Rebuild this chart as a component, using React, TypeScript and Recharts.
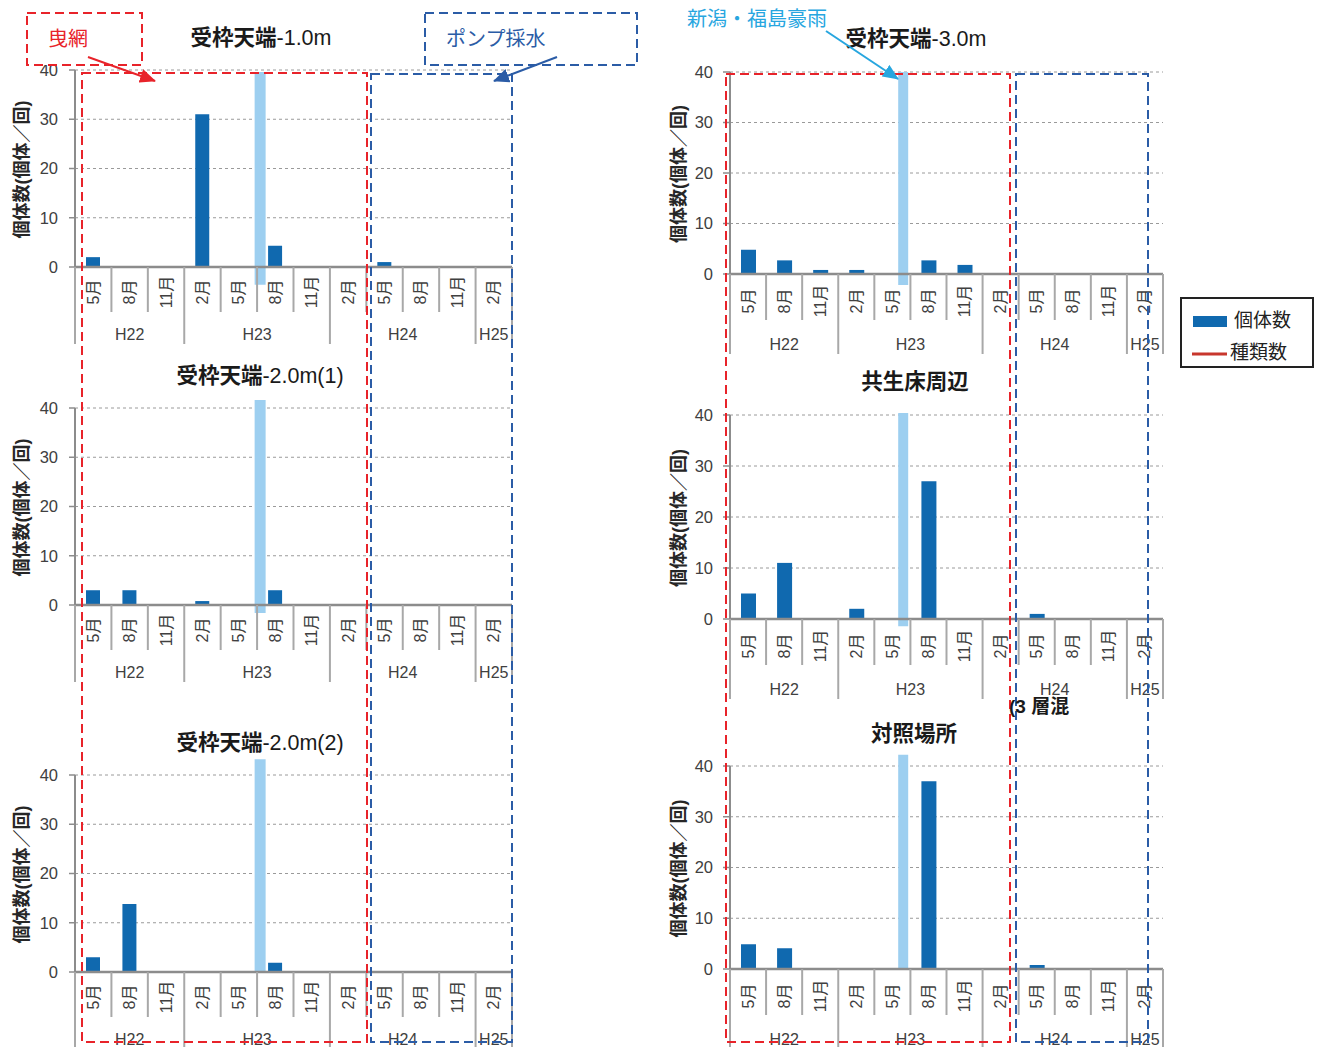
import React from 'react';
import { ComposedChart, Bar, XAxis, YAxis, CartesianGrid } from 'recharts';

// ---------- data ----------
const MONTHS = ['5月', '8月', '11月', '2月', '5月', '8月', '11月', '2月', '5月', '8月', '11月', '2月'];
const YEARS = ['H22', 'H22', 'H22', 'H23', 'H23', 'H23', 'H23', 'H24', 'H24', 'H24', 'H24', 'H25'];
const Y_TICKS = [0, 10, 20, 30, 40];

// 個体数 (個体／回)
const COUNT_UKE_1_0 = [2, 0, 0, 31, 0, 4.3, 0, 0, 1, 0, 0, 0];
const COUNT_UKE_2_0_1 = [3, 3, 0, 0.8, 0, 3, 0, 0, 0, 0, 0, 0];
const COUNT_UKE_2_0_2 = [3, 13.8, 0, 0, 0, 1.9, 0, 0, 0, 0, 0, 0];
const COUNT_UKE_3_0 = [4.8, 2.7, 0.8, 0.8, 0, 2.7, 1.8, 0, 0, 0, 0, 0];
const COUNT_KYOSEI = [5, 11, 0, 2, 0, 27, 0, 0, 1, 0, 0, 0];
const COUNT_TAISHO = [4.9, 4.1, 0, 0, 0, 37, 0, 0, 0.8, 0, 0, 0];

// 新潟・福島豪雨 marker (range of the light bar, in axis units)
const FLOOD_UKE_1_0: [number, number] = [-3.6, 39.6];
const FLOOD_UKE_2_0_1: [number, number] = [-1.6, 41.6];
const FLOOD_UKE_2_0_2: [number, number] = [0, 43.2];
const FLOOD_UKE_3_0: [number, number] = [-2.2, 40];
const FLOOD_KYOSEI: [number, number] = [-1.4, 40.4];
const FLOOD_TAISHO: [number, number] = [0, 42.2];
const FLOOD_ROW = 4; // flood occurred after the 5月 H23 survey

// ---------- style / layout ----------
const FONT = '"Liberation Sans", "Noto Sans CJK JP", sans-serif';
const DARK = '#1069AF';
const LIGHT = '#9DCFF0';
const AXIS = '#8C8C8C';
const SEP = '#A8A8A8';
const RED = '#E8232A';
const BLUE = '#2B5CA6';
const SKY = '#27A6DF';

const AXIS_W = 75;
const MT = 10;
const MR = 18;

type Geo = {
  monthH: number; totalH: number; monthDy: number; yearDy: number;
  tickSize: number; tickMargin: number; floodPos: number; barSize: number; floodSize: number;
};
const GEO_LEFT: Geo = { monthH: 45, totalH: 77, monthDy: 25, yearDy: 67, tickSize: 6, tickMargin: 11, floodPos: 5.07, barSize: 14, floodSize: 11 };
const GEO_RIGHT: Geo = { monthH: 46, totalH: 80, monthDy: 27, yearDy: 70, tickSize: 7, tickMargin: 10, floodPos: 4.8, barSize: 15, floodSize: 10 };

type PanelCfg = {
  title: string; titleRest: string; titleX: number; titleY: number;
  counts: number[]; flood: [number, number];
  plotLeft: number; plotTop: number; plotW: number; plotH: number; geo: Geo; labelX: number;
};

const PANELS: PanelCfg[] = [
  { title: '受枠天端', titleRest: '-1.0m', titleX: 261, titleY: 38, counts: COUNT_UKE_1_0, flood: FLOOD_UKE_1_0, plotLeft: 75, plotTop: 70, plotW: 437, plotH: 197, geo: GEO_LEFT, labelX: 22 },
  { title: '受枠天端', titleRest: '-2.0m(1)', titleX: 260, titleY: 376, counts: COUNT_UKE_2_0_1, flood: FLOOD_UKE_2_0_1, plotLeft: 75, plotTop: 408, plotW: 437, plotH: 197, geo: GEO_LEFT, labelX: 22 },
  { title: '受枠天端', titleRest: '-2.0m(2)', titleX: 260, titleY: 743, counts: COUNT_UKE_2_0_2, flood: FLOOD_UKE_2_0_2, plotLeft: 75, plotTop: 775, plotW: 437, plotH: 197, geo: GEO_LEFT, labelX: 22 },
  { title: '受枠天端', titleRest: '-3.0m', titleX: 916, titleY: 39, counts: COUNT_UKE_3_0, flood: FLOOD_UKE_3_0, plotLeft: 730, plotTop: 72, plotW: 433, plotH: 202, geo: GEO_RIGHT, labelX: 679 },
  { title: '共生床周辺', titleRest: '', titleX: 915, titleY: 382, counts: COUNT_KYOSEI, flood: FLOOD_KYOSEI, plotLeft: 730, plotTop: 415, plotW: 433, plotH: 204, geo: GEO_RIGHT, labelX: 679 },
  { title: '対照場所', titleRest: '', titleX: 914, titleY: 734, counts: COUNT_TAISHO, flood: FLOOD_TAISHO, plotLeft: 730, plotTop: 766, plotW: 433, plotH: 203, geo: GEO_RIGHT, labelX: 679 },
];

function MonthTick(props: any) {
  const { x, y, payload, geo, bw } = props;
  const i = Number(payload.value);
  const last = MONTHS.length - 1;
  const yearStart = i === 0 || YEARS[i] !== YEARS[i - 1];
  const yearEnd = i === last || YEARS[i + 1] !== YEARS[i];
  let len = 0;
  if (yearStart) {
    let j = i;
    while (j <= last && YEARS[j] === YEARS[i]) { len++; j++; }
  }
  const left = x - bw / 2;
  return (
    <g>
      {i === 0 && <line x1={left} x2={left} y1={y} y2={y + geo.totalH} stroke={SEP} strokeWidth={2} />}
      <line x1={x + bw / 2} x2={x + bw / 2} y1={y} y2={y + (yearEnd ? geo.totalH : geo.monthH)} stroke={SEP} strokeWidth={2} />
      <text
        transform={`translate(${x},${y + geo.monthDy}) rotate(-90)`}
        textAnchor="middle"
        dominantBaseline="central"
        fontSize={16}
        fontFamily={FONT}
        fill="#404040"
      >
        {MONTHS[i]}
      </text>
      {yearStart && (
        <text x={left + (len * bw) / 2} y={y + geo.yearDy} textAnchor="middle" dominantBaseline="central" fontSize={16} fontFamily={FONT} fill="#404040">
          {YEARS[i]}
        </text>
      )}
    </g>
  );
}

function Panel({ cfg }: { cfg: PanelCfg }) {
  const { counts, flood, plotLeft, plotTop, plotW, plotH, geo } = cfg;
  const data = MONTHS.map((m, i) => ({
    idx: i,
    month: m,
    count: counts[i],
    pos: i === FLOOD_ROW ? geo.floodPos : undefined,
    flood: i === FLOOD_ROW ? flood : undefined,
  }));
  const width = AXIS_W + plotW + MR;
  const height = MT + plotH + geo.totalH + 4;
  const bw = plotW / MONTHS.length;
  return (
    <div style={{ position: 'absolute', left: plotLeft - AXIS_W, top: plotTop - MT }}>
      <ComposedChart width={width} height={height} data={data} margin={{ top: MT, right: MR, bottom: 4, left: 0 }}>
        <CartesianGrid xAxisId="m" yAxisId="y" vertical={false} stroke="#9A9A9A" strokeDasharray="3 3" />
        <XAxis
          xAxisId="m"
          dataKey="idx"
          type="category"
          interval={0}
          height={geo.totalH}
          tickLine={false}
          tickSize={0}
          tickMargin={0}
          axisLine={{ stroke: AXIS, strokeWidth: 2.5 }}
          tick={(p: any) => <MonthTick {...p} geo={geo} bw={bw} />}
        />
        <XAxis xAxisId="f" dataKey="pos" type="number" domain={[0, MONTHS.length]} height={0} hide />
        <YAxis
          yAxisId="y"
          domain={[0, 40]}
          ticks={Y_TICKS}
          allowDataOverflow
          width={AXIS_W}
          tickSize={geo.tickSize}
          tickMargin={geo.tickMargin}
          tickLine={{ stroke: AXIS, strokeWidth: 1.5 }}
          axisLine={{ stroke: AXIS, strokeWidth: 2 }}
          tick={{ fill: '#404040', fontSize: 16.5, fontFamily: FONT }}
        />
        <Bar xAxisId="f" yAxisId="y" dataKey="flood" fill={LIGHT} barSize={geo.floodSize} className="flood-bar" isAnimationActive={false} />
        <Bar xAxisId="m" yAxisId="y" dataKey="count" fill={DARK} barSize={geo.barSize} isAnimationActive={false} />
      </ComposedChart>
    </div>
  );
}

export default function App() {
  return (
    <div style={{ position: 'absolute', left: 0, top: 0, width: 1322, height: 1047, background: '#fff', fontFamily: FONT, overflow: 'hidden' }}>
      <style>{'.flood-bar, .flood-bar * { clip-path: none !important; } .recharts-surface { overflow: visible; }'}</style>
      {PANELS.map((p, i) => (
        <Panel key={i} cfg={p} />
      ))}
      <svg width={1322} height={1047} style={{ position: 'absolute', left: 0, top: 0, pointerEvents: 'none' }}>
        <defs>
          <marker id="arRed" markerUnits="userSpaceOnUse" markerWidth={16} markerHeight={14} refX={15} refY={7} orient="auto">
            <path d="M0,0 L16,7 L0,14 z" fill={RED} />
          </marker>
          <marker id="arBlue" markerUnits="userSpaceOnUse" markerWidth={16} markerHeight={14} refX={15} refY={7} orient="auto">
            <path d="M0,0 L16,7 L0,14 z" fill={BLUE} />
          </marker>
          <marker id="arSky" markerUnits="userSpaceOnUse" markerWidth={16} markerHeight={14} refX={15} refY={7} orient="auto">
            <path d="M0,0 L16,7 L0,14 z" fill={SKY} />
          </marker>
        </defs>

        {/* titles */}
        {PANELS.map((p, i) => (
          <text key={'t' + i} x={p.titleX} y={p.titleY} textAnchor="middle" dominantBaseline="central" fontSize={21.5} fontFamily={FONT} fill="#1a1a1a">
            <tspan fontWeight="bold">{p.title}</tspan>
            {p.titleRest && <tspan>{p.titleRest}</tspan>}
          </text>
        ))}

        {/* y-axis labels */}
        {PANELS.map((p, i) => (
          <text
            key={'y' + i}
            transform={`translate(${p.labelX},${p.plotTop + p.plotH / 2 + 1}) rotate(-90)`}
            textAnchor="middle"
            dominantBaseline="central"
            fontSize={18}
            fontWeight="bold"
            fontFamily={FONT}
            fill="#262626"
          >
            個体数(個体／回)
          </text>
        ))}

        {/* period boxes */}
        <rect x={82} y={73} width={285} height={969} fill="none" stroke={RED} strokeWidth={2} strokeDasharray="9 5" />
        <rect x={371} y={74} width={141} height={968} fill="none" stroke={BLUE} strokeWidth={2} strokeDasharray="9 5" />
        <rect x={726} y={74} width={284} height={968} fill="none" stroke={RED} strokeWidth={2} strokeDasharray="9 5" />
        <rect x={1016} y={74} width={132} height={968} fill="none" stroke={BLUE} strokeWidth={2} strokeDasharray="9 5" />

        {/* annotations */}
        <rect x={27} y={13} width={115} height={52} fill="#fff" stroke={RED} strokeWidth={2} strokeDasharray="9 5" />
        <text x={48} y={39} dominantBaseline="central" fontSize={20} fontFamily={FONT} fill={RED}>曳網</text>
        <line x1={88} y1={57} x2={155} y2={81} stroke={RED} strokeWidth={2} markerEnd="url(#arRed)" />

        <rect x={425} y={13} width={212} height={52} fill="#fff" stroke={BLUE} strokeWidth={2} strokeDasharray="9 5" />
        <text x={446} y={39} dominantBaseline="central" fontSize={20} fontFamily={FONT} fill={BLUE}>ポンプ採水</text>
        <line x1={557} y1={57} x2={494} y2={81} stroke={BLUE} strokeWidth={2} markerEnd="url(#arBlue)" />

        <text x={687} y={19} dominantBaseline="central" fontSize={20} fontFamily={FONT} fill={SKY}>新潟・福島豪雨</text>
        <line x1={826} y1={31} x2={898} y2={79} stroke={SKY} strokeWidth={2} markerEnd="url(#arSky)" />

        <text x={1009} y={706} dominantBaseline="central" fontSize={19} fontWeight="bold" fontFamily={FONT} fill="#1a1a1a">(3 層混</text>

        {/* legend */}
        <rect x={1181} y={298} width={132} height={69} fill="#fff" stroke="#222" strokeWidth={2} />
        <rect x={1193} y={316} width={34} height={11} fill={DARK} />
        <text x={1234} y={320} dominantBaseline="central" fontSize={19} fontFamily={FONT} fill="#222">個体数</text>
        <line x1={1192} y1={354} x2={1227} y2={354} stroke="#C8372D" strokeWidth={3} />
        <text x={1230} y={352} dominantBaseline="central" fontSize={19} fontFamily={FONT} fill="#222">種類数</text>
      </svg>
    </div>
  );
}
